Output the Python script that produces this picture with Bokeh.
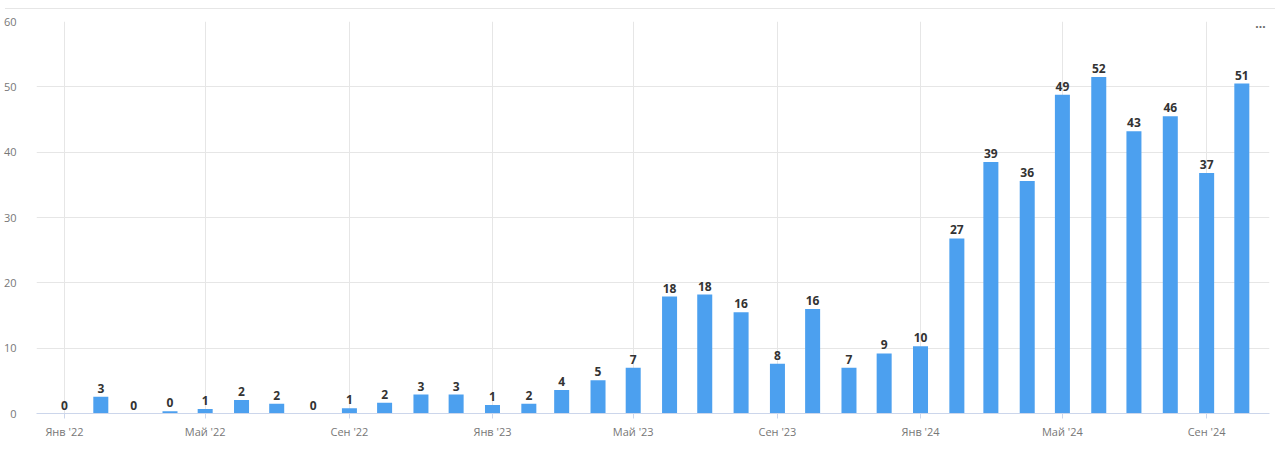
import math
import pandas as pd
from bokeh.plotting import figure
from bokeh.models import FixedTicker, ColumnDataSource, Label, Div, Range1d
from bokeh.layouts import column
from bokeh.embed import file_html
from bokeh.resources import INLINE
from bokeh.core.properties import value

months = ["2022-01", "2022-02", "2022-03", "2022-04", "2022-05", "2022-06",
          "2022-07", "2022-08", "2022-09", "2022-10", "2022-11", "2022-12",
          "2023-01", "2023-02", "2023-03", "2023-04", "2023-05", "2023-06",
          "2023-07", "2023-08", "2023-09", "2023-10", "2023-11", "2023-12",
          "2024-01", "2024-02", "2024-03", "2024-04", "2024-05", "2024-06",
          "2024-07", "2024-08", "2024-09", "2024-10"]
values = [0, 2.55, 0, 0.35, 0.7, 2.05,
          1.5, 0, 0.8, 1.65, 2.9, 2.9,
          1.3, 1.5, 3.6, 5.1, 7.0, 17.9,
          18.2, 15.5, 7.6, 16.0, 7.0, 9.2,
          10.3, 26.8, 38.5, 35.6, 48.8, 51.5,
          43.2, 45.5, 36.8, 50.5]
tick_months = ["2022-01", "2022-05", "2022-09", "2023-01", "2023-05",
               "2023-09", "2024-01", "2024-05", "2024-09"]
tick_labels = ["Янв '22", "Май '22", "Сен '22", "Янв '23", "Май '23",
               "Сен '23", "Янв '24", "Май '24", "Сен '24"]
y_ticks = [0, 10, 20, 30, 40, 50, 60]

origin = pd.Timestamp("2022-01-01")


def day(m):
    return int((pd.Timestamp(m + "-01") - origin).days)


xs = [day(m) for m in months]
labels = [str(int(math.floor(v + 0.5))) for v in values]
src = ColumnDataSource(dict(x=xs, v=values, lab=labels))

p = figure(width=1270, height=434, output_backend="svg", toolbar_location=None,
           x_range=Range1d(-23.84, 1027.6), y_range=Range1d(0, 60),
           min_border_left=28, min_border_right=1, min_border_top=7,
           min_border_bottom=35)
p.outline_line_color = None
p.background_fill_color = "white"
p.border_fill_color = "white"

p.vbar(x="x", top="v", width=12.8, source=src, fill_color="#4ca0ef",
       line_color=None)
p.text(x="x", y="v", text="lab", source=src, text_align="center",
       text_baseline="bottom", y_offset=-4, text_font=value("Open Sans"),
       text_font_style="bold", text_font_size="12px", text_color="#333333")

tick_x = [day(m) for m in tick_months]
p.xaxis.ticker = FixedTicker(ticks=tick_x)
p.xaxis.major_label_overrides = {t: l for t, l in zip(tick_x, tick_labels)}
p.xaxis.axis_line_color = "#ccd6eb"
p.xaxis.major_tick_line_color = "#ccd6eb"
p.xaxis.major_tick_out = 5
p.xaxis.major_tick_in = 0
p.xaxis.minor_tick_line_color = None
p.xaxis.major_label_standoff = 5
p.xaxis.major_label_text_font = "Open Sans"
p.xaxis.major_label_text_font_size = "11px"
p.xaxis.major_label_text_color = "#777777"

p.yaxis.ticker = FixedTicker(ticks=y_ticks)
p.yaxis.axis_line_color = None
p.yaxis.major_tick_line_color = None
p.yaxis.minor_tick_line_color = None
p.yaxis.major_label_standoff = 14
p.yaxis.major_label_text_font = "Open Sans"
p.yaxis.major_label_text_font_size = "11px"
p.yaxis.major_label_text_color = "#777777"

p.xgrid.ticker = FixedTicker(ticks=tick_x)
p.xgrid.grid_line_color = "#e6e6e6"
p.ygrid.grid_line_color = "#e6e6e6"

p.add_layout(Label(x=1224, y=386, x_units="screen", y_units="screen",
                   text="...", text_font="Open Sans", text_font_style="bold",
                   text_font_size="12px", text_color="#666666",
                   text_align="center", text_baseline="bottom"))

top_line = Div(text="", width=1270, height=4,
               styles={"border-bottom": "1px solid #e6e6e6"})
layout = column(top_line, p, spacing=0)

open("out.html", "w").write(file_html(layout, INLINE))
